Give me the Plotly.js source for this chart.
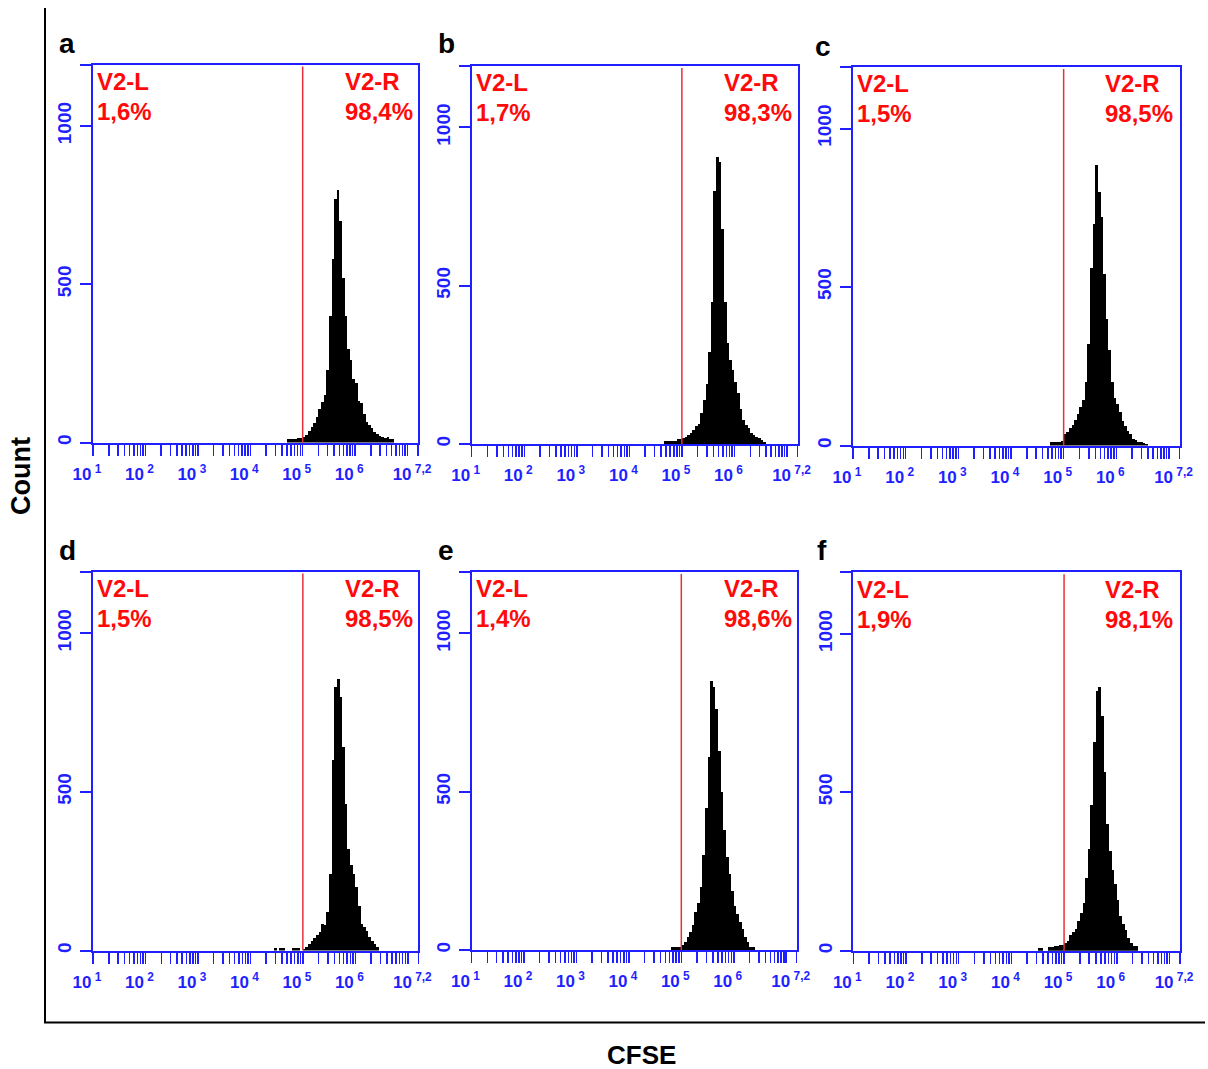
<!DOCTYPE html>
<html><head><meta charset="utf-8">
<script src="https://cdn.plot.ly/plotly-3.0.1.min.js"></script>
<style>html,body{margin:0;padding:0;background:#fff}#chart{width:1208px;height:1069px}</style>
</head><body><div id="chart"></div>
<script>
// ---------------- data ----------------
const panelLetters = ['a', 'b', 'c', 'd', 'e', 'f'];
const binWidth = 0.05;               // log10 units per histogram channel
const gateLog = 5;                    // V2 gate at 10^5
const xMinLog = 1, xMaxLog = 7.2;
const yMax = 1194;
const yTickVals = [0, 500, 1000];
const decades = [1, 2, 3, 4, 5, 6];

const binStartA = 4.70;
const countsA = [12,12,12,12,13,14,18,25,36,48,62,80,105,128,150,230,400,580,770,797,700,520,400,295,262,200,187,130,124,90,66,55,45,34,28,20,16,14,18,12,10];
const binStartB = 4.65;
const countsB = [10,10,10,10,8,15,17,18,23,28,36,44,58,62,97,140,190,290,450,800,906,890,680,450,320,265,233,195,160,110,75,60,50,34,28,23,18,12,7];
const binStartC = 4.75;
const countsC = [10,10,10,10,15,35,42,55,66,82,100,122,145,200,320,560,700,884,800,720,540,400,300,200,150,130,106,78,62,45,35,22,18,12,12,7,6];
const binStartD = 4.45;
const countsD = [8,0,8,8,0,0,0,8,8,8,0,6,10,21,31,40,50,58,84,80,120,240,600,830,856,800,640,460,320,270,240,200,140,84,75,60,42,30,22,10];
const binStartE = 4.80;
const countsE = [10,10,10,10,15,26,42,58,80,120,150,200,300,450,610,850,830,760,630,500,380,295,240,185,140,115,90,65,40,24,10,8];
const binStartF = 4.50;
const countsF = [10,10,0,0,12,12,14,14,17,17,24,32,48,60,69,95,118,150,230,320,460,660,820,831,740,564,400,315,255,210,160,110,85,64,40,25,14,14];

const gateLeftLabel = 'V2-L';
const gateRightLabel = 'V2-R';
const pctLeft  = ['1,6%', '1,7%', '1,5%', '1,5%', '1,4%', '1,9%'];
const pctRight = ['98,4%', '98,3%', '98,5%', '98,5%', '98,6%', '98,1%'];
const xTitle = 'CFSE';
const yTitle = 'Count';

const binStarts = [binStartA, binStartB, binStartC, binStartD, binStartE, binStartF];
const countSets = [countsA, countsB, countsC, countsD, countsE, countsF];

// ---------------- layout geometry (pixels) ----------------
const W = 1208, H = 1069;
// [left, right, top, bottom] of each plot box
const boxes = [
  [93, 418, 64.5, 442.5], [471.7, 797.5, 66, 444], [853, 1179.5, 67, 445.5],
  [93, 418.3, 571.5, 950.5], [471.5, 796.7, 572, 950], [853.3, 1180, 572.3, 950.7]
];
const letterPos = [[67, 44], [446, 44], [823, 46], [67, 550], [446, 550], [822, 550]];

const BLUE = '#1f1fff', RED = '#ff0a0a', GATE = '#e8303a';
const FONT = 'Liberation Sans, Arial, Helvetica, sans-serif';

// ticks
const xTickVals = [], xTickText = [];
decades.forEach(d => {
  for (let k = 1; k <= 9; k++) {
    xTickVals.push(d + Math.log10(k));
    xTickText.push(k === 1 ? '10<sup> ' + d + '</sup>' : '');
  }
});
xTickVals.push(7); xTickText.push('');
xTickVals.push(xMaxLog); xTickText.push('10<sup> 7,2</sup>');

const yVals = yTickVals.concat([yMax]);
const yText = yTickVals.map(String).concat(['']);

const data = [];
const layout = {
  width: W, height: H,
  margin: {l: 0, r: 0, t: 0, b: 0},
  paper_bgcolor: '#fff', plot_bgcolor: '#fff',
  showlegend: false, hovermode: false, bargap: 0,
  font: {family: FONT},
  annotations: [], shapes: []
};

panelLetters.forEach((letter, i) => {
  const sfx = i === 0 ? '' : String(i + 1);
  const b = boxes[i];
  const xs = countSets[i].map((_, j) => binStarts[i] + (j + 0.5) * binWidth);
  data.push({
    type: 'bar', x: xs, y: countSets[i], width: binWidth,
    marker: {color: '#000', line: {width: 0}},
    xaxis: 'x' + sfx, yaxis: 'y' + sfx
  });
  data.push({
    type: 'scatter', mode: 'lines', x: [gateLog, gateLog], y: [0, yMax - 6],
    line: {color: GATE, width: 1.5}, xaxis: 'x' + sfx, yaxis: 'y' + sfx
  });
  layout['xaxis' + sfx] = {
    domain: [b[0] / W, b[1] / W], range: [xMinLog, xMaxLog], anchor: 'y' + sfx,
    showgrid: false, zeroline: false, showline: true, mirror: true,
    linecolor: BLUE, linewidth: 2,
    tickmode: 'array', tickvals: xTickVals, ticktext: xTickText,
    ticks: 'outside', ticklen: 11, tickwidth: 1.5, tickcolor: BLUE,
    tickangle: 0, ticklabelshift: -6, ticklabelstandoff: 4,
    tickfont: {family: FONT, size: 17, color: BLUE, weight: 'bold'}
  };
  layout['yaxis' + sfx] = {
    domain: [1 - b[3] / H, 1 - b[2] / H], range: [0, yMax], anchor: 'x' + sfx,
    showgrid: false, zeroline: false, showline: true, mirror: true,
    linecolor: BLUE, linewidth: 2,
    tickmode: 'array', tickvals: yVals, ticktext: yText,
    ticks: 'outside', ticklen: 11, tickwidth: 2, tickcolor: BLUE,
    tickangle: -90, ticklabelstandoff: 1,
    tickfont: {family: FONT, size: 19, color: BLUE, weight: 'bold'}
  };
  const xd = 'x' + sfx + ' domain', yd = 'y' + sfx + ' domain';
  const bw = b[1] - b[0], bh = b[3] - b[2];
  const redFont = {family: FONT, size: 24, color: RED, weight: 'bold'};
  const row1 = 1 - 16.8 / bh, row2 = 1 - 46.8 / bh;
  const lx = 2 / bw, rx = 250 / bw;
  [[lx, row1, gateLeftLabel], [lx, row2, pctLeft[i]], [rx, row1, gateRightLabel], [rx, row2, pctRight[i]]]
    .forEach(([ax, ay, txt]) => layout.annotations.push({
      xref: xd, yref: yd, x: ax, y: ay, xanchor: 'left', yanchor: 'middle',
      text: txt, showarrow: false, font: redFont
    }));
  layout.annotations.push({
    xref: 'paper', yref: 'paper', x: letterPos[i][0] / W, y: 1 - letterPos[i][1] / H,
    xanchor: 'center', yanchor: 'middle', text: letter, showarrow: false,
    font: {family: FONT, size: 28, color: '#000', weight: 'bold'}
  });
});

layout.annotations.push({
  xref: 'paper', yref: 'paper', x: 21 / W, y: 1 - 476 / H, textangle: -90,
  xanchor: 'center', yanchor: 'middle', text: yTitle, showarrow: false,
  font: {family: FONT, size: 27, color: '#000', weight: 'bold'}
});
layout.annotations.push({
  xref: 'paper', yref: 'paper', x: 641 / W, y: 1 - 1055 / H,
  xanchor: 'center', yanchor: 'middle', text: xTitle, showarrow: false, borderpad: 0,
  font: {family: FONT, size: 26, color: '#000', weight: 'bold'}
});

layout.shapes.push({type: 'line', xref: 'paper', yref: 'paper',
  x0: 45 / W, x1: 45 / W, y0: 1 - 8 / H, y1: 1 - 1022.5 / H, line: {color: '#000', width: 2}});
layout.shapes.push({type: 'line', xref: 'paper', yref: 'paper',
  x0: 44 / W, x1: 1205 / W, y0: 1 - 1022.5 / H, y1: 1 - 1022.5 / H, line: {color: '#000', width: 2}});

Plotly.newPlot('chart', data, layout, {displayModeBar: false, staticPlot: true});
</script></body></html>
